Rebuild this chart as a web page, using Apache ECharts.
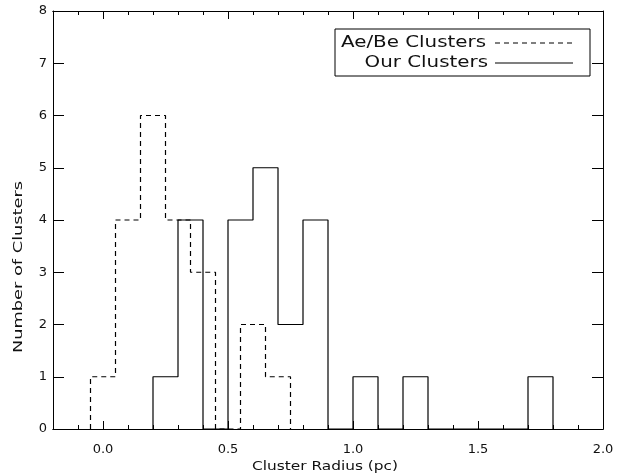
<!DOCTYPE html>
<html>
<head>
<meta charset="utf-8">
<script src="https://cdn.jsdelivr.net/npm/echarts@6/dist/echarts.min.js"></script>
<style>html,body{margin:0;padding:0;background:#fff}#c{width:632px;height:474px}</style>
</head>
<body>
<div id="c"></div>
<script>
// ---- data ----
var binWidth = 0.1;
var aeBeBinLeft = [-0.05, 0.05, 0.15, 0.25, 0.35, 0.45, 0.55, 0.65];
var aeBeCounts  = [1, 4, 6, 4, 3, 0, 2, 1];
var ourBinLeft  = [0.2, 0.3, 0.4, 0.5, 0.6, 0.7, 0.8, 0.9, 1.0, 1.1, 1.2, 1.3, 1.4, 1.5, 1.6, 1.7];
var ourCounts   = [1, 4, 0, 4, 5, 2, 4, 0, 1, 0, 1, 0, 0, 0, 0, 1];
var xMajorTicks = [0.0, 0.5, 1.0, 1.5, 2.0];
var xMinorTicks = [-0.1, 0.1, 0.2, 0.3, 0.4, 0.6, 0.7, 0.8, 0.9, 1.1, 1.2, 1.3, 1.4, 1.6, 1.7, 1.8, 1.9];
var seriesNames = ['Ae/Be Clusters', 'Our Clusters'];
var xTitle = 'Cluster Radius (pc)';
var yTitle = 'Number of Clusters';

function stepPoints(lefts, counts) {
  var pts = [[lefts[0], 0]];
  for (var i = 0; i < lefts.length; i++) {
    var l = lefts[i], r = +(l + binWidth).toFixed(4);
    pts.push([l, counts[i]]);
    pts.push([r, counts[i]]);
  }
  pts.push([+(lefts[lefts.length - 1] + binWidth).toFixed(4), 0]);
  return pts;
}

var FONT = 'DejaVu Sans';
var black = '#000';
var txt = '#111';

function xAx(pos, vals, len, showLabel) {
  return {
    type: 'value', position: pos, min: -0.2, max: 2.0,
    axisLine: { show: true, onZero: false, lineStyle: { color: black, width: 1 } },
    axisTick: { show: true, inside: true, length: len, customValues: vals, lineStyle: { color: black, width: 1 } },
    axisLabel: { show: showLabel, customValues: vals, margin: 14, fontFamily: FONT, fontSize: 13, color: txt,
      formatter: function (v) { return v.toFixed(1); } },
    splitLine: { show: false }
  };
}
function yAx(pos, showLabel) {
  return {
    type: 'value', position: pos, min: 0, max: 8, interval: 1,
    axisLine: { show: true, onZero: false, lineStyle: { color: black, width: 1 } },
    axisTick: { show: true, inside: true, length: 11, lineStyle: { color: black, width: 1 } },
    axisLabel: { show: showLabel, margin: 6, fontFamily: FONT, fontSize: 13, color: txt },
    splitLine: { show: false }
  };
}

var chart = echarts.init(document.getElementById('c'), null, { renderer: 'canvas' });
chart.setOption({
  animation: false,
  backgroundColor: '#fff',
  grid: { left: 53, right: 29, top: 11, bottom: 45, containLabel: false },
  xAxis: [
    xAx('bottom', xMajorTicks, 8, true),
    xAx('bottom', xMinorTicks, 4, false),
    xAx('top', xMajorTicks, 8, false),
    xAx('top', xMinorTicks, 4, false)
  ],
  yAxis: [yAx('left', true), yAx('right', false)],
  series: [
    { name: seriesNames[0], type: 'line', xAxisIndex: 0, yAxisIndex: 0, data: stepPoints(aeBeBinLeft, aeBeCounts),
      showSymbol: false, symbol: 'none', silent: true,
      lineStyle: { color: black, width: 1.2, type: [5, 4] } },
    { name: seriesNames[1], type: 'line', xAxisIndex: 0, yAxisIndex: 0, data: stepPoints(ourBinLeft, ourCounts),
      showSymbol: false, symbol: 'none', silent: true,
      lineStyle: { color: black, width: 1.2, type: 'solid' } }
  ],
  graphic: [
    // axis titles (wide plotter-style lettering)
    { type: 'text', x: 325, y: 467, scaleX: 1.28, style: { text: xTitle, font: '12px "DejaVu Sans"', fill: txt, textAlign: 'center', textVerticalAlign: 'middle' } },
    { type: 'text', x: 19, y: 267, rotation: Math.PI / 2, scaleX: 1.48, style: { text: yTitle, font: '12px "DejaVu Sans"', fill: txt, textAlign: 'center', textVerticalAlign: 'middle' } },
    // legend box
    { type: 'group', x: 335, y: 29, children: [
      { type: 'rect', shape: { x: 0, y: 0, width: 255, height: 47 }, style: { fill: '#fff', stroke: black, lineWidth: 1 } },
      { type: 'text', x: 6, y: 14, scaleX: 1.24, style: { text: seriesNames[0], font: '16px "DejaVu Sans"', fill: txt, textVerticalAlign: 'middle', textAlign: 'left' } },
      { type: 'text', x: 153, y: 34, scaleX: 1.24, style: { text: seriesNames[1], font: '16px "DejaVu Sans"', fill: txt, textVerticalAlign: 'middle', textAlign: 'right' } },
      { type: 'line', shape: { x1: 160, y1: 14, x2: 237, y2: 14 }, style: { stroke: black, lineWidth: 1.2, lineDash: [5, 4] } },
      { type: 'line', shape: { x1: 160, y1: 34, x2: 238, y2: 34 }, style: { stroke: black, lineWidth: 1.2 } }
    ] }
  ]
});
</script>
</body>
</html>
